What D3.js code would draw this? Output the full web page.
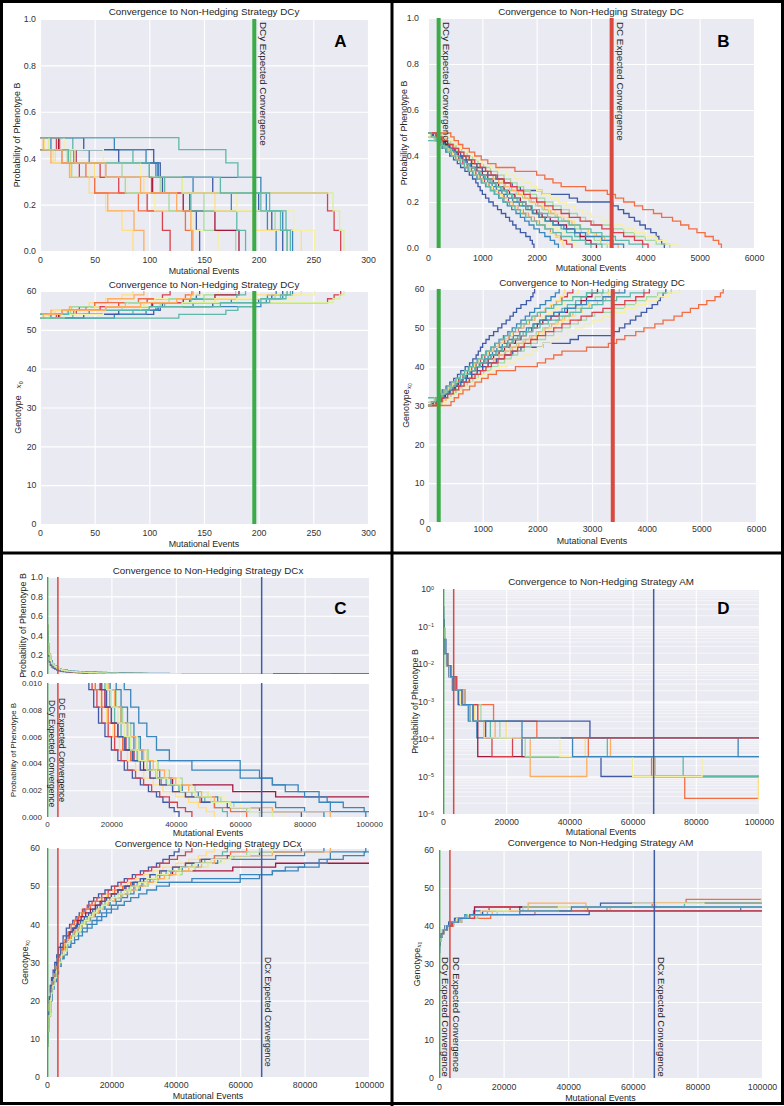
<!DOCTYPE html>
<html><head><meta charset="utf-8">
<script src="https://cdn.jsdelivr.net/npm/d3@7"></script>
<style>body{margin:0;background:#fff}svg{display:block}</style>
</head><body>
<svg id="c" width="784" height="1106"></svg>
<script>
// ---------------- DATA ----------------
// expected convergence (mutational events)
const CONV_DCy = 196, CONV_DC = 3380, CONV_DCx = 66667;

const P_yticks = [0, 0.2, 0.4, 0.6, 0.8, 1.0];
const G_yticks = [0, 10, 20, 30, 40, 50, 60];
const A_xticks = [0, 50, 100, 150, 200, 250, 300];
const B_xticks = [0, 1000, 2000, 3000, 4000, 5000, 6000];
const CD_xticks = [0, 20000, 40000, 60000, 80000, 100000];
const Cmid_yticks = [0, 0.002, 0.004, 0.006, 0.008, 0.010];
const D_yticks = [1e-6, 1e-5, 1e-4, 1e-3, 1e-2, 1e-1, 1];

// Panel A: probability of phenotype B for genotype 53..60
const A_gmin = 53;
const A_levels = [0.489, 0.437, 0.380, 0.317, 0.250, 0.173, 0.089, 0.0];
const A_start = [53,54,53,53,54,53,54,53,53,53,53,54,53,54,53,54,53,54,53,53];
const A_steps = [
 [4,14,28,45,60,75,85],
 [10,27,50,62,86,95],
 [15,31,36,72,98,112,119],
 [18,26,42,50,90,133,139],
 [104,108,112,137,143,146],
 [8,25,45,80,105,140,163],
 [25,29,78,118,150,179],
 [17,33,60,103,131,160,182],
 [30,85,100,114,138,180,188],
 [68,97,106,140,175,208,216],
 [40,72,110,158,200,212,222],
 [28,75,110,150,215,226],
 [10,45,108,202,207,222,231],
 [12,50,95,160,195,239],
 [22,58,92,130,180,232,251],
 [20,55,102,263,269,275],
 [8,32,60,130,268,274,278],
 [26,100,165,202,220,226],
 [3,20,60,92,125,138,140],
 [127,170,181,197,210,225,229]
];

// Panel B: genotype 30..60
const B_gmin = 30;
const B_levels = [0.500,0.483,0.467,0.450,0.433,0.417,0.400,0.383,0.367,0.350,0.333,0.317,0.300,0.283,0.267,0.250,
 0.233,0.217,0.200,0.183,0.167,0.150,0.133,0.117,0.100,0.083,0.067,0.050,0.033,0.017,0.0];
const B_start = [30,31,30,30,32,30,30,30,31,30,30,30,30,30,31,30,31,30];
const B_steps = [
 [80,120,200,260,330,400,470,540,600,680,760,820,880,920,960,1000,1060,1120,1200,1280,1350,1430,1500,1560,1620,1700,1800,1880,1920,1950],
 [150,230,300,380,450,520,600,680,740,820,900,980,1060,1150,1220,1300,1380,1460,1540,1620,1700,1780,1860,1950,2050,2150,2250,2330,2400],
 [100,180,260,340,420,500,560,640,720,800,880,960,1040,1120,1200,1300,1400,1480,1560,1650,1750,1850,1950,2050,2150,2250,2350,2450,2550,2650],
 [50,140,250,340,420,520,600,700,780,860,940,1020,1100,1200,1300,1400,1500,1600,1700,1800,1900,2000,2100,2200,2300,2400,2500,2600,2700,2750],
 [280,360,450,520,600,680,760,860,940,1040,1140,1240,1340,1440,1540,1640,1740,1840,1940,2050,2150,2300,2450,2550,2700,2800,2900,3000],
 [150,240,320,400,480,560,640,720,800,900,1000,1100,1200,1300,1400,1500,1600,1700,1800,1900,2000,2100,2250,2400,2550,2700,2800,2900,3000,3100],
 [200,280,360,440,520,600,700,800,900,1000,1100,1200,1300,1400,1500,1620,1740,1860,1980,2100,2220,2340,2460,2580,2700,2820,2940,3060,3180,3300],
 [250,330,410,500,580,660,740,820,900,1000,1100,1200,1300,1420,1540,1660,1780,1900,2020,2140,2260,2380,2500,2650,2800,2950,3100,3250,3400,3500],
 [300,400,480,560,660,760,860,960,1060,1160,1260,1380,1500,1620,1740,1860,1980,2100,2220,2340,2460,2580,2700,2820,2940,3060,3180,3300,3400],
 [140,220,300,380,460,540,620,700,780,860,940,1020,1100,1180,1260,1360,1460,1560,1680,1800,1920,2040,2160,2300,2500,2700,2900,3200,3400,3600],
 [100,200,300,400,500,600,700,800,900,1000,1100,1250,1400,1550,1700,2100,2600,2750,3400,3500,3600,3700,3800,3900,4000,4100,4200,4250,4300,4350],
 [220,320,420,520,620,720,820,920,1020,1150,1280,1400,1520,1640,1760,1880,2000,2150,2300,2450,2600,2750,2900,3050,3400,3600,3800,4000,4200,4450],
 [300,400,500,600,700,800,900,1000,1150,1300,1450,1600,1750,1900,2000,2100,2250,2400,2550,2700,2850,3000,3200,3400,3600,3800,4000,4200,4400,4600],
 [420,480,560,640,760,860,980,1100,1250,1600,2000,2150,2300,2450,2900,3300,3450,3600,3800,3950,4150,4300,4500,4650,4800,4950,5100,5250,5350,5400],
 [160,250,330,420,500,580,660,760,860,960,1060,1160,1260,1360,1460,1560,1680,1800,1920,2050,2200,2400,2600,2800,3000,3200,3450,3700,3950],
 [160,260,360,460,560,660,760,860,960,1060,1160,1280,1400,1520,1640,1760,1880,2000,2150,2300,2450,2600,2800,3000,3200,3400,3600,3800,3950,4050],
 [120,200,290,370,450,530,610,690,770,850,930,1010,1100,1190,1280,1370,1460,1550,1640,1740,1840,1940,2040,2140,2240,2340,2420,2480,2500],
 [60,130,200,280,350,430,510,590,670,750,830,910,990,1070,1150,1230,1310,1400,1500,1600,1700,1800,1900,2000,2150,2300,2450,2650,2900,3200]
];

// Panel C: genotype 8..60
const C_gmin = 8;
const C_levels = [0.50,0.44,0.39,0.35,0.31,0.28,0.25,0.225,0.205,0.185,
 0.168,0.152,0.138,0.125,0.113,0.102,0.092,0.083,0.075,0.068,
 0.062,0.056,0.051,0.046,0.041,0.037,0.033,0.030,0.027,0.024,
 0.022,0.020,0.0185,0.017,0.0155,0.014,0.0124,0.0109,0.0095,0.0082,
 0.0070,0.0060,0.0050,0.0042,0.0035,0.0029,0.0024,0.0019,0.0015,0.0011,
 0.0007,0.0004,0.0];
const C_runs = [
 [[0,9],[150,13],[400,17],[700,21],[1000,24],[1400,26],[1900,28],[2400,30],[3000,32],[3600,34],[4200,35],[5000,37],[6000,39],[7000,40],[8000,41],[9000,42],[10000,43],[11500,44],[13000,46],[14500,47],[16000,48],[18000,49],[20000,50],[22000,51],[24000,52],[26500,53],[29000,54],[31500,55],[34000,56],[36000,57],[38000,58],[39500,59],[41000,60]],
 [[0,8],[200,12],[500,16],[800,20],[1200,23],[1700,25],[2300,27],[2900,29],[3500,31],[4200,33],[5000,35],[5800,36],[6800,38],[7800,39],[8800,40],[9800,42],[11000,44],[12500,45],[14000,46],[15500,47],[17000,48],[19000,49],[21000,50],[23000,51],[25000,52],[27500,53],[30000,54],[32500,55],[35000,56],[38000,57],[40500,58],[43000,59],[45000,60]],
 [[0,8],[100,11],[350,15],[650,19],[1000,22],[1500,25],[2000,27],[2600,29],[3200,31],[3900,33],[4600,34],[5400,36],[6200,37],[7200,38],[8200,40],[9400,41],[10500,43],[12000,44],[13500,45],[15000,46],[16800,47],[18500,48],[20500,49],[22500,50],[25000,51],[27500,52],[30000,53],[33000,54],[36000,55],[40000,56],[44000,57],[47000,58],[49500,59],[52000,60]],
 [[0,9],[250,13],[550,17],[900,21],[1300,24],[1800,26],[2400,28],[3000,30],[3700,32],[4400,33],[5200,35],[6100,36],[7000,37],[8000,38],[9000,39],[10000,40],[11200,41],[12500,42],[13800,43],[15000,44],[16500,45],[18000,46],[19500,47],[21000,48],[23000,49],[25500,50],[28000,51],[31000,52],[34000,53],[37000,54],[41000,55],[45000,56],[49000,57],[52000,58],[54500,59],[56000,60]],
 [[0,8],[150,12],[400,16],[800,20],[1200,23],[1600,25],[2200,27],[2800,29],[3400,31],[4000,32],[4800,34],[5600,36],[6500,38],[7500,40],[8500,41],[9500,42],[10800,43],[12000,44],[13500,45],[15000,46],[17000,47],[19000,48],[21000,49],[23500,50],[26000,51],[29000,52],[32000,53],[35500,54],[39000,55],[43000,56],[47500,57],[52000,58],[57000,59],[62000,60]],
 [[0,8],[300,13],[600,17],[1000,20],[1500,23],[2000,25],[2600,27],[3300,29],[4000,31],[4800,33],[5600,34],[6500,35],[7500,37],[8600,38],[9700,39],[11000,40],[12200,41],[13500,42],[15000,43],[16500,44],[18000,45],[19500,46],[21500,47],[23500,48],[26000,49],[28500,50],[31500,51],[34500,52],[38000,53],[42000,54],[46000,55],[50000,56],[54000,57],[58000,58],[62000,59],[66000,60]],
 [[0,8],[200,12],[500,16],[900,20],[1300,23],[1800,25],[2400,27],[3000,29],[3700,31],[4500,33],[5300,35],[6200,36],[7200,38],[8300,39],[9400,41],[10600,42],[12000,43],[13500,44],[15000,45],[16500,46],[18000,47],[20000,48],[22000,49],[24500,50],[27000,51],[30000,52],[34000,53],[39000,54],[57700,55],[71000,56],[100000,56]],
 [[0,9],[250,13],[600,17],[1000,21],[1500,24],[2100,26],[2800,28],[3500,30],[4300,31],[5200,33],[6200,34],[7300,36],[8500,37],[9800,38],[11000,39],[12500,40],[14000,41],[15500,42],[17000,43],[18500,44],[20000,45],[21500,46],[23000,47],[25000,48],[27000,49],[29000,50],[31000,51],[60000,52],[66000,53],[70000,54],[74000,55],[84500,57],[88000,59],[99000,60]],
 [[0,8],[100,11],[400,15],[750,19],[1100,22],[1600,24],[2200,26],[2900,28],[3600,30],[4400,32],[5200,33],[6100,35],[7100,36],[8200,38],[9300,39],[10500,40],[11800,41],[13200,42],[14600,43],[16000,44],[17500,45],[19200,46],[21000,47],[23000,48],[25500,49],[28000,50],[31000,51],[34000,52],[37500,53],[41000,54],[45000,55],[50000,56],[55000,57],[60000,58],[67000,59],[74000,60]],
 [[0,8],[300,12],[700,16],[1100,20],[1500,23],[2000,25],[2600,27],[3200,29],[3900,31],[4700,33],[5500,34],[6400,35],[7400,37],[8500,38],[9600,39],[10800,40],[12000,41],[13500,42],[15000,43],[16500,44],[18000,45],[19600,46],[21200,47],[23000,48],[25000,49],[27000,50],[29500,51],[32000,52],[35000,53],[38500,54],[42000,55],[47000,56],[53000,57],[71000,58],[80000,59],[86000,60]],
 [[0,9],[150,13],[450,17],[800,21],[1200,24],[1700,26],[2300,28],[2900,30],[3600,32],[4300,34],[5100,35],[6000,37],[7000,38],[8000,39],[9200,40],[10400,41],[11600,42],[12900,43],[14200,44],[15600,45],[17000,46],[18500,47],[20000,48],[22000,49],[24000,50],[26500,51],[29000,52],[32000,53],[35000,54],[39000,55],[43000,56],[48000,57],[56000,58],[66000,59],[79000,60]],
 [[0,8],[200,12],[550,16],[950,20],[1400,23],[1900,25],[2500,27],[3100,29],[3800,31],[4600,33],[5400,35],[6300,36],[7300,37],[8400,38],[9600,39],[10800,40],[12000,41],[13300,42],[14600,43],[16000,44],[17500,45],[19000,46],[21000,47],[23000,48],[25000,49],[27500,50],[30000,51],[33000,52],[36500,53],[40000,54],[44000,55],[48000,56],[52000,57],[57000,58],[70000,59],[88000,60]],
 [[0,9],[300,13],[700,17],[1100,20],[1600,23],[2200,25],[2900,27],[3600,29],[4400,31],[5300,32],[6300,34],[7400,35],[8600,36],[9800,37],[11000,38],[12500,39],[14000,40],[15500,41],[17000,42],[18500,43],[20000,44],[22000,45],[24000,46],[26000,47],[28500,48],[31000,49],[34000,50],[38000,51],[45000,52],[60000,53],[70000,54],[78000,55],[80000,56],[87000,57],[92000,58],[98500,59],[100000,59]],
 [[0,8],[250,12],[600,16],[1000,20],[1400,22],[1900,24],[2500,26],[3100,28],[3800,30],[4500,32],[5300,33],[6200,35],[7100,36],[8100,37],[9200,38],[10400,40],[11600,41],[12900,42],[14200,43],[15500,44],[17000,45],[18500,46],[20000,47],[22000,48],[24000,49],[26000,50],[28500,51],[31000,52],[34000,53],[37500,54],[41500,55],[46000,56],[51000,57],[57000,58],[63000,59],[70000,60]]
];

// Panel D: genotype 30..47
const D_gmin = 30;
const D_levels = [0.75,0.6,0.45,0.33,0.23,0.15,0.09,0.045,0.019,0.009,0.0046,0.002,0.00083,0.0003,0.000107,0.000034,0.00001,0.0000026];
const D_runs = [
 [[0,35],[300,37],[800,38],[1500,39],[2500,40],[4000,41],[6000,42],[8000,43],[10700,44],[93400,45],[100000,45]],
 [[0,30],[80,33],[200,35],[400,37],[900,38],[1600,39],[2600,40],[4500,41],[7000,42],[9500,43],[13500,44],[25000,45],[50000,46],[100000,46]],
 [[0,36],[400,38],[1100,39],[2000,40],[3500,41],[5500,42],[16000,43],[29700,44],[46000,45],[66000,46],[76500,47],[100000,47]],
 [[0,36],[500,38],[1300,39],[2300,40],[4000,41],[6500,42],[9000,43],[11000,45],[67000,46],[100000,46]],
 [[0,37],[600,38],[1500,39],[2700,40],[4500,41],[7000,42],[11000,43],[16500,44],[27600,46],[45500,45],[53000,44],[100000,44]],
 [[0,36],[300,38],[1000,39],[2200,40],[3800,41],[6000,42],[10000,43],[20000,44],[45000,45],[67000,46],[99800,47],[100000,47]],
 [[0,36],[500,38],[1200,39],[1800,40],[3000,41],[5000,42],[8500,43],[15000,44],[52000,45],[76000,46],[100000,46]],
 [[0,35],[200,37],[700,38],[1400,39],[2400,40],[4000,41],[6500,42],[12000,43],[18000,44],[26000,45],[100000,45]],
 [[0,37],[400,38],[1000,39],[1800,40],[3000,41],[4800,42],[9000,43],[46500,44],[100000,44]],
 [[0,37],[500,38],[1200,39],[2500,40],[4200,41],[6000,42],[11000,43],[13000,44],[15500,45],[22000,44],[100000,44]],
 [[0,36],[300,38],[900,39],[2000,40],[3300,41],[5500,42],[9000,43],[13000,44],[37000,45],[60000,46],[82000,45],[100000,45]],
 [[0,34],[150,37],[600,38],[1300,39],[2300,40],[3800,41],[6000,42],[9500,43],[25000,44],[41000,45],[100000,45]]
];

// ---------------- STYLE ----------------
const dr="#a5173f", r="#d8424f", o="#f46d43", lo="#fdae61", y="#fddf85", py="#f6f0a6", pg="#d9ef98",
      lg="#a5d9a2", t="#5fb9a8", b="#3a86bd", db="#3f5aa6";
const A_colors=[y,lo,r,o,db,py,lg,dr,t,b,db,lg,b,y,py,r,pg,t,lo,t];
const B_colors=[db,b,r,py,t,dr,lg,lo,y,b,db,lg,py,o,t,r,y,t];
const C_colors=[db,r,y,t,o,lg,dr,b,py,b,db,lo,b,pg];
const D_colors=[b,db,o,dr,lo,y,t,lg,db,r,py,b];
const GREEN="#3aab47", RED="#d9493f", BLUE="#3f5ea8";
const FONT="'Liberation Sans', Arial, sans-serif";
const TXT="#262626";
const TICK_FS=8.8;

// ---------------- DRAW ----------------
const svg=d3.select("#c");
const defs=svg.append("defs");
let clipN=0;
function toPairs(g0,steps){const p=[[0,g0]];steps.forEach((s,i)=>p.push([s,g0+i+1]));return p;}

function box(o){
  const W=o.x1-o.x0,H=o.y1-o.y0;
  const x=d3.scaleLinear().domain(o.xdom).range([o.x0,o.x1]);
  const yS=(o.log?d3.scaleLog():d3.scaleLinear()).domain(o.ydom).range([o.y1,o.y0]);
  const g=svg.append("g");
  g.append("rect").attr("x",o.x0).attr("y",o.y0).attr("width",W).attr("height",H).attr("fill","#EAEAF2");
  const grid=(s,w)=>{s.select(".domain").remove();s.selectAll("line").attr("stroke","#fff").attr("stroke-width",w);};
  if(o.log){
    g.append("g").attr("transform",`translate(${o.x0},0)`).call(d3.axisLeft(yS).tickValues(yS.ticks()).tickSize(-W).tickFormat("")).call(s=>grid(s,0.6));
  }
  g.append("g").attr("transform",`translate(${o.x0},0)`).call(d3.axisLeft(yS).tickValues(o.yticks).tickSize(-W).tickFormat("")).call(s=>grid(s,1.1));
  g.append("g").attr("transform",`translate(0,${o.y1})`).call(d3.axisBottom(x).tickValues(o.xticks).tickSize(-H).tickFormat("")).call(s=>grid(s,1.1));
  const id="clip"+(clipN++);
  defs.append("clipPath").attr("id",id).append("rect").attr("x",o.x0).attr("y",o.y0).attr("width",W).attr("height",H);
  const plot=g.append("g").attr("clip-path",`url(#${id})`);
  const ya=g.append("g").attr("transform",`translate(${o.x0},0)`)
    .call(d3.axisLeft(yS).tickValues(o.yticks).tickSize(0).tickPadding(o.ypad).tickFormat(o.yfmt));
  ya.select(".domain").remove();
  ya.attr("font-family",FONT).attr("font-size",o.tfs||TICK_FS);
  ya.selectAll("text").attr("fill","#333");
  if(o.log){
    ya.selectAll("text").each(function(d){
      const e=Math.round(Math.log10(d));
      const s=d3.select(this); s.text("10");
      s.append("tspan").attr("dy","-0.5em").attr("font-size","0.62em").text(e===0?"0":"\u2212"+(-e));
    });
  }
  if(o.xtickY){
    const xa=g.append("g").attr("transform",`translate(0,${o.xtickY})`)
      .call(d3.axisBottom(x).tickValues(o.xticks).tickSize(0).tickPadding(0).tickFormat(d3.format("d")));
    xa.select(".domain").remove();
    xa.attr("font-family",FONT).attr("font-size",o.tfs||TICK_FS);
    xa.selectAll("text").attr("y",0).attr("dy",0).attr("fill","#333");
  }
  if(o.xlabelY){
    g.append("text").attr("x",(o.x0+o.x1)/2).attr("y",o.xlabelY).attr("text-anchor","middle")
     .attr("font-family",FONT).attr("font-size",8.9).attr("fill",TXT).text("Mutational Events");
  }
  if(o.title){
    g.append("text").attr("x",(o.x0+o.x1)/2).attr("y",o.titleY).attr("text-anchor","middle")
     .attr("font-family",FONT).attr("font-size",o.titfs||9.8).attr("fill",TXT).text(o.title);
  }
  const yl=g.append("text").attr("transform",`translate(${o.ylabelX},${(o.y0+o.y1)/2}) rotate(-90)`)
     .attr("text-anchor","middle").attr("font-family",FONT).attr("font-size",o.ylfs||8.9).attr("fill",TXT);
  if(o.ylabel==="prob"){ yl.text("Probability of Phenotype B"); }
  else if(o.ylabel==="genoA"){
    yl.text("Genotype");
    yl.append("tspan").attr("dx","0.9em").attr("font-style","italic").attr("font-size","0.85em").attr("font-family","'DejaVu Serif',serif").text("x");
    yl.append("tspan").attr("dy","0.3em").attr("font-size","0.6em").text("0");
  } else {
    yl.text("Genotype");
    yl.append("tspan").attr("dy","0.3em").attr("font-style","italic").attr("font-size","0.72em").attr("font-family","'DejaVu Serif',serif").text("x");
    yl.append("tspan").attr("dy","0.2em").attr("font-size","0.5em").text("0");
  }
  return {x,y:yS,g,plot,o};
}

function drawRuns(ax,runs,colors,val){
  const line=d3.line().x(d=>ax.x(d[0])).y(d=>ax.y(val(d[1]))).curve(d3.curveStepAfter);
  ax.plot.selectAll("path.run").data(runs).join("path").attr("class","run")
    .attr("d",line).attr("fill","none").attr("stroke",(d,i)=>colors[i%colors.length])
    .attr("stroke-width",1.3).attr("stroke-linejoin","miter");
}
function vline(ax,v,color,w){
  ax.plot.append("line").attr("x1",ax.x(v)).attr("x2",ax.x(v)).attr("y1",ax.o.y0).attr("y2",ax.o.y1)
    .attr("stroke",color).attr("stroke-width",w);
}
function vlabel(ax,v,text,dx,ypix,fs){
  ax.g.append("text").attr("transform",`translate(${ax.x(v)+dx},${ypix}) rotate(90)`)
    .attr("font-family",FONT).attr("font-size",fs).attr("fill",TXT).text(text);
}
function letter(L,cx,by){
  svg.append("text").attr("x",cx).attr("y",by).attr("text-anchor","middle").attr("font-family",FONT)
    .attr("font-weight","bold").attr("font-size",17).attr("fill","#000").text(L);
}

const f1=d3.format(".1f"), f3=d3.format(".3f"), fd=d3.format("d");

// ----- Panel A -----
const A_runs=A_start.map((g0,i)=>toPairs(g0,A_steps[i]));
const aTop=box({x0:40,x1:368,y0:19,y1:251,xdom:[0,300],ydom:[0,1],xticks:A_xticks,yticks:P_yticks,yfmt:f1,ypad:4,
  xtickY:263,xlabelY:274,title:"Convergence to Non-Hedging Strategy DCy",titleY:15,ylabel:"prob",ylabelX:19.5});
drawRuns(aTop,A_runs,A_colors,g=>A_levels[g-A_gmin]);
vline(aTop,CONV_DCy,GREEN,4);
vlabel(aTop,CONV_DCy,"DCy Expected Convergence",5.5,22,9.8);
letter("A",340.5,47);
const aBot=box({x0:40,x1:368,y0:291,y1:524,xdom:[0,300],ydom:[0,60],xticks:A_xticks,yticks:G_yticks,yfmt:fd,ypad:3.5,
  xtickY:536,xlabelY:547,title:"Convergence to Non-Hedging Strategy DCy",titleY:288,ylabel:"genoA",ylabelX:21});
drawRuns(aBot,A_runs,A_colors,g=>g);
vline(aBot,CONV_DCy,GREEN,4);

// ----- Panel B -----
const B_runs=B_start.map((g0,i)=>toPairs(g0,B_steps[i]));
const bTop=box({x0:428,x1:754,y0:18,y1:248,xdom:[0,6000],ydom:[0,1],xticks:B_xticks,yticks:P_yticks,yfmt:f1,ypad:9,
  xtickY:261,xlabelY:271,title:"Convergence to Non-Hedging Strategy DC",titleY:15,ylabel:"prob",ylabelX:407});
drawRuns(bTop,B_runs,B_colors,g=>B_levels[g-B_gmin]);
vline(bTop,CONV_DCy,GREEN,4); vline(bTop,CONV_DC,RED,4);
vlabel(bTop,CONV_DCy,"DCy Expected Convergence",4.5,22,9.8);
vlabel(bTop,CONV_DC,"DC Expected Convergence",5,22,9.8);
letter("B",723.5,47);
const bBot=box({x0:428,x1:756,y0:289,y1:522,xdom:[0,6000],ydom:[0,60],xticks:B_xticks,yticks:G_yticks,yfmt:fd,ypad:3.5,
  xtickY:532,xlabelY:544,title:"Convergence to Non-Hedging Strategy DC",titleY:286,ylabel:"geno",ylabelX:409});
drawRuns(bBot,B_runs,B_colors,g=>g);
vline(bBot,CONV_DCy,GREEN,4); vline(bBot,CONV_DC,RED,4);

// ----- Panel C -----
const cTop=box({x0:47,x1:369,y0:577,y1:674,xdom:[0,100000],ydom:[0,1],xticks:CD_xticks,yticks:P_yticks,yfmt:f1,ypad:4,
  title:"Convergence to Non-Hedging Strategy DCx",titleY:574,ylabel:"prob",ylabelX:25.5});
drawRuns(cTop,C_runs,C_colors,g=>C_levels[g-C_gmin]);
vline(cTop,CONV_DCy,GREEN,1.5); vline(cTop,CONV_DC,RED,1.5); vline(cTop,CONV_DCx,BLUE,1.5);
letter("C",340.5,614);
const cMid=box({x0:47,x1:369,y0:683,y1:817,xdom:[0,100000],ydom:[0,0.01],xticks:CD_xticks,yticks:Cmid_yticks,yfmt:f3,ypad:5,tfs:8,
  xtickY:827,xlabelY:836,ylabel:"prob",ylabelX:15.5,ylfs:8});
drawRuns(cMid,C_runs,C_colors,g=>C_levels[g-C_gmin]);
vline(cMid,CONV_DCy,GREEN,1.5); vline(cMid,CONV_DC,RED,1.5); vline(cMid,CONV_DCx,BLUE,1.5);
vlabel(cMid,CONV_DCy,"DCy Expected Convergence",1.5,700,8.5);
vlabel(cMid,CONV_DC,"DC Expected Convergence",1.5,698,8.6);
const cBot=box({x0:47,x1:369,y0:848,y1:1077,xdom:[0,100000],ydom:[0,60],xticks:CD_xticks,yticks:G_yticks,yfmt:fd,ypad:7,
  xtickY:1088,xlabelY:1099,title:"Convergence to Non-Hedging Strategy DCx",titleY:846.5,titfs:9.6,ylabel:"geno",ylabelX:27.5});
drawRuns(cBot,C_runs,C_colors,g=>g);
vline(cBot,CONV_DCy,GREEN,1.5); vline(cBot,CONV_DC,RED,1.5); vline(cBot,CONV_DCx,BLUE,1.5);
vlabel(cBot,CONV_DCx,"DCx Expected Convergence",3.5,957,8.7);

// ----- Panel D -----
const dTop=box({x0:443,x1:759,y0:589,y1:814,xdom:[0,100000],ydom:[1e-6,1],log:true,xticks:CD_xticks,yticks:D_yticks,yfmt:()=>"10",ypad:9,
  xtickY:825,xlabelY:835,title:"Convergence to Non-Hedging Strategy AM",titleY:585,ylabel:"prob",ylabelX:417.5});
drawRuns(dTop,D_runs,D_colors,g=>D_levels[g-D_gmin]);
vline(dTop,CONV_DCy,GREEN,1.5); vline(dTop,CONV_DC,RED,1.5); vline(dTop,CONV_DCx,BLUE,1.5);
letter("D",723.5,614);
const dBot=box({x0:439,x1:762,y0:850,y1:1078,xdom:[0,100000],ydom:[0,60],xticks:CD_xticks,yticks:G_yticks,yfmt:fd,ypad:5,
  xtickY:1090,xlabelY:1101,title:"Convergence to Non-Hedging Strategy AM",titleY:846,ylabel:"geno",ylabelX:419.5});
drawRuns(dBot,D_runs,D_colors,g=>g);
vline(dBot,CONV_DCy,GREEN,1.5); vline(dBot,CONV_DC,RED,1.5); vline(dBot,CONV_DCx,BLUE,1.5);
vlabel(dBot,CONV_DCy,"DCy Expected Convergence",2.5,957,9.5);
vlabel(dBot,CONV_DC,"DC Expected Convergence",3,957,9.5);
vlabel(dBot,CONV_DCx,"DCx Expected Convergence",3.5,957,9.5);

// ----- Frame -----
svg.append("rect").attr("x",1.5).attr("y",1.5).attr("width",781).attr("height",1102).attr("fill","none").attr("stroke","#000").attr("stroke-width",3);
svg.append("line").attr("x1",392).attr("x2",392).attr("y1",0).attr("y2",1106).attr("stroke","#000").attr("stroke-width",3);
svg.append("line").attr("x1",0).attr("x2",784).attr("y1",553).attr("y2",553).attr("stroke","#000").attr("stroke-width",3);
</script>
</body></html>
